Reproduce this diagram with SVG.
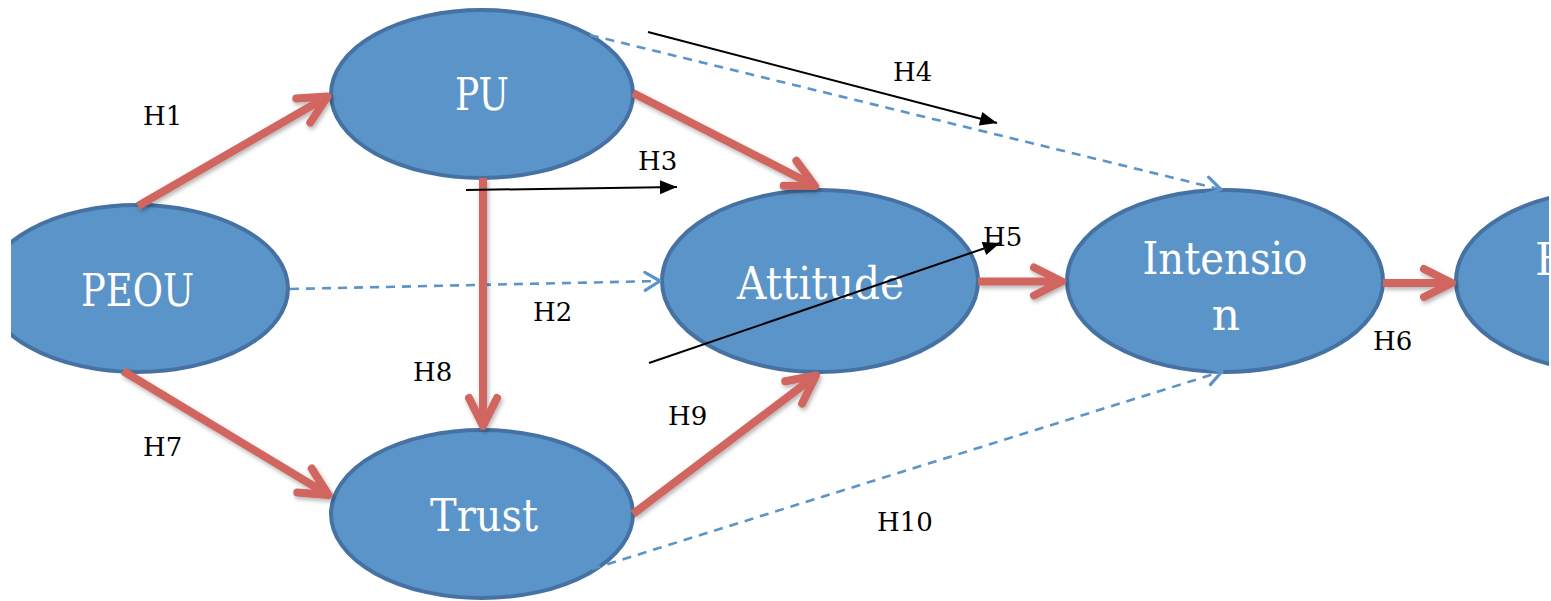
<svg xmlns="http://www.w3.org/2000/svg" width="1551" height="601" viewBox="0 0 1551 601">
<style>
.node ellipse{fill:#5B94C8;stroke:#4572A3;stroke-width:4}
.nt{font-family:"DejaVu Serif","Liberation Serif",serif;font-size:44px;fill:#ffffff;text-anchor:middle}
.lbl{font-family:"DejaVu Serif","Liberation Serif",serif;font-size:26px;fill:#000000}
.red{stroke:#D0665F;stroke-width:8;fill:none;marker-end:url(#redHead);filter:url(#shadow)}
.dash{stroke:#5B94C8;stroke-width:2.6;stroke-dasharray:9 7;fill:none;marker-end:url(#blueHead)}
.blk{stroke:#000000;stroke-width:2;fill:none;marker-end:url(#blkHead)}
</style>
<defs>
<clipPath id="frame"><rect x="11" y="0" width="1538" height="601"/></clipPath>
<filter id="shadow" filterUnits="userSpaceOnUse" x="0" y="0" width="1551" height="601">
<feDropShadow dx="1.5" dy="2.5" stdDeviation="2" flood-color="#000000" flood-opacity="0.3"/>
</filter>
<marker id="redHead" markerUnits="userSpaceOnUse" viewBox="-40 -24 50 48" refX="0" refY="0" markerWidth="50" markerHeight="48" orient="auto" overflow="visible">
<path d="M-28,-14 L0,0 L-28,14" fill="none" stroke="#D0665F" stroke-width="8" stroke-linecap="round" stroke-linejoin="round"/>
</marker>
<marker id="blueHead" markerUnits="userSpaceOnUse" viewBox="-24 -14 30 28" refX="0" refY="0" markerWidth="30" markerHeight="28" orient="auto" overflow="visible">
<path d="M-15,-9 L0,0 L-15,9" fill="none" stroke="#5B94C8" stroke-width="3.2" stroke-linecap="round" stroke-linejoin="round"/>
</marker>
<marker id="blkHead" markerUnits="userSpaceOnUse" viewBox="-20 -10 22 20" refX="0" refY="0" markerWidth="22" markerHeight="20" orient="auto" overflow="visible">
<path d="M-17,-7 L0,0 L-17,7 Z" fill="#000000"/>
</marker>
</defs>
<g clip-path="url(#frame)">
<g id="nodes">
<g id="peou" class="node"><ellipse cx="137" cy="288.5" rx="151" ry="83.5"/><text class="nt" x="137.5" y="306" textLength="113" lengthAdjust="spacingAndGlyphs">PEOU</text></g>
<g id="pu" class="node"><ellipse cx="482" cy="94" rx="151" ry="84"/><text class="nt" x="482" y="110" textLength="54" lengthAdjust="spacingAndGlyphs">PU</text></g>
<g id="trust" class="node"><ellipse cx="482" cy="514" rx="151" ry="84"/><text class="nt" x="484" y="531" textLength="108" lengthAdjust="spacingAndGlyphs">Trust</text></g>
<g id="attitude" class="node"><ellipse cx="820" cy="281" rx="158" ry="91"/><text class="nt" x="820.5" y="299" textLength="167" lengthAdjust="spacingAndGlyphs">Attitude</text></g>
<g id="intension" class="node"><ellipse cx="1225" cy="281" rx="158" ry="91"/><text class="nt" x="1225" y="274" textLength="165" lengthAdjust="spacingAndGlyphs">Intensio</text><text class="nt" x="1226" y="330">n</text></g>
<g id="behavior" class="node"><ellipse cx="1614" cy="281" rx="158" ry="91"/><text class="nt" x="1535" y="275" style="text-anchor:start">B</text></g>
</g>
<g id="connectors">
<line class="dash" x1="290" y1="289" x2="660" y2="281"/>
<line class="dash" x1="590" y1="35" x2="1221" y2="189.5"/>
<line class="dash" x1="592" y1="569" x2="1222" y2="371.5"/>
<line class="red" x1="138" y1="206" x2="327.5" y2="96.5"/>
<line class="red" x1="633" y1="93" x2="815" y2="186"/>
<line class="red" x1="483" y1="178" x2="483" y2="426"/>
<line class="red" x1="123" y1="371" x2="328.5" y2="495"/>
<line class="red" x1="633" y1="514" x2="816" y2="375.5"/>
<line class="red" x1="978" y1="281.5" x2="1062" y2="281.5"/>
<line class="red" x1="1383" y1="283" x2="1452" y2="283"/>
<line class="blk" x1="466" y1="190" x2="677" y2="187"/>
<line class="blk" x1="648" y1="32" x2="997" y2="123"/>
<line class="blk" x1="649" y1="363" x2="1000" y2="243"/>
</g>
<g id="labels">
<text class="lbl" x="143" y="125">H1</text>
<text class="lbl" x="893" y="81">H4</text>
<text class="lbl" x="638" y="170">H3</text>
<text class="lbl" x="983" y="246">H5</text>
<text class="lbl" x="533" y="321">H2</text>
<text class="lbl" x="413" y="381">H8</text>
<text class="lbl" x="668" y="425">H9</text>
<text class="lbl" x="143" y="456">H7</text>
<text class="lbl" x="877" y="531">H10</text>
<text class="lbl" x="1373" y="350">H6</text>
</g>
</g>
</svg>
